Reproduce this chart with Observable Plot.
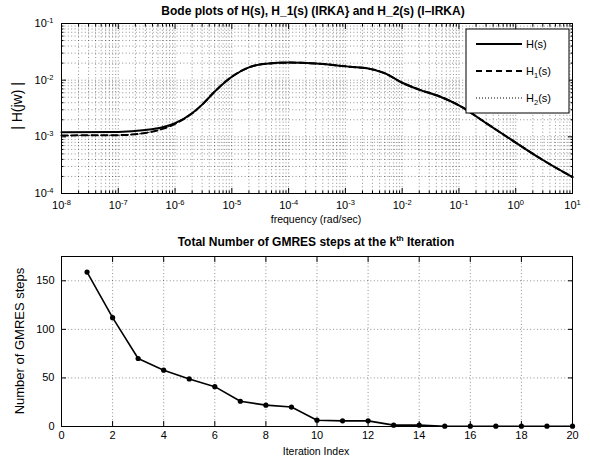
<!DOCTYPE html>
<html><head><meta charset="utf-8">
<script src="https://cdn.jsdelivr.net/npm/d3@7"></script>
<script src="https://cdn.jsdelivr.net/npm/@observablehq/plot@0.6"></script>
<style>
body{margin:0;background:#fff;font-family:"Liberation Sans",Arial,sans-serif;color:#000}
#wrap{position:relative;width:590px;height:459px;overflow:hidden;background:#fff}
.abs{position:absolute;white-space:nowrap;line-height:1}
.title{font-weight:bold;font-size:12px;transform:translateX(-50%)}
.xlab{font-size:10.5px;transform:translateX(-50%)}
.ylab{font-size:13px;transform:translate(-50%,-50%) rotate(-90deg)}
.ylab.big{font-size:14px}
sup{font-size:8px;vertical-align:0;position:relative;top:-5px}
</style></head>
<body><div id="wrap"></div>
<script>
// ---------- data: Bode magnitudes ----------
const freq = [1e-8,1e-7,3e-7,6e-7,1e-6,2e-6,3e-6,5e-6,1e-5,2e-5,4e-5,1e-4,3e-4,6e-4,1.2e-3,2.4e-3,5e-3,1e-2,2e-2,4.7e-2,1e-1,3e-1,1,3,10];
const magH  = [1.20e-3,1.22e-3,1.32e-3,1.48e-3,1.74e-3,2.6e-3,3.7e-3,6.3e-3,1.15e-2,1.68e-2,1.95e-2,2.04e-2,1.97e-2,1.86e-2,1.72e-2,1.62e-2,1.32e-2,9.0e-3,6.8e-3,5.1e-3,3.6e-3,1.75e-3,7.9e-4,3.9e-4,1.95e-4];
const magH1 = [1.06e-3,1.07e-3,1.17e-3,1.38e-3,1.70e-3,2.6e-3,3.7e-3,6.3e-3,1.15e-2,1.68e-2,1.95e-2,2.04e-2,1.97e-2,1.86e-2,1.72e-2,1.62e-2,1.32e-2,9.0e-3,6.8e-3,5.1e-3,3.6e-3,1.75e-3,7.9e-4,3.9e-4,1.95e-4];
const magH2 = [1.06e-3,1.07e-3,1.17e-3,1.38e-3,1.70e-3,2.6e-3,3.7e-3,6.3e-3,1.15e-2,1.68e-2,1.95e-2,2.04e-2,1.97e-2,1.86e-2,1.72e-2,1.62e-2,1.32e-2,9.0e-3,6.8e-3,5.1e-3,3.6e-3,1.75e-3,7.9e-4,3.9e-4,1.95e-4];
const xDecades = [1e-8,1e-7,1e-6,1e-5,1e-4,1e-3,1e-2,1e-1,1e0,1e1];
const yDecades = [1e-4,1e-3,1e-2,1e-1];
const seriesNames = ["H(s)","H_1(s)","H_2(s)"];

// ---------- data: GMRES steps ----------
const iteration = [1,2,3,4,5,6,7,8,9,10,11,12,13,14,15,16,17,18,19,20];
const gmresSteps = [159,112,70,58,49,41,26,22,20,6.5,5.8,5.8,1.4,1.4,0.3,0.3,0.3,0.3,0.3,0.3];
const iterTicks = [0,2,4,6,8,10,12,14,16,18,20];
const stepTicks = [0,50,100,150];

const titleTop = "Bode plots of H(s), H_1(s) (IRKA} and H_2(s) (I\u2013IRKA)";
const xLabelTop = "frequency (rad/sec)";
const yLabelTop = "| H(jw) |";
const xLabelBot = "Iteration Index";
const yLabelBot = "Number of GMRES steps";

// ---------- helpers ----------
const minorOf = decs => decs.slice(0,-1).flatMap(d => [2,3,4,5,6,7,8,9].map(k => k*d));
const gridStyle = {stroke:"#000", strokeOpacity:0.55, strokeWidth:0.8, strokeDasharray:"1,2.4"};
const powLabel = d => "10^" + Math.round(Math.log10(d));

function supify(svg){
  d3.select(svg).selectAll("g[aria-label$='tick label'] text").each(function(){
    const s = this.textContent;
    if (!s.includes("^")) return;
    const [b,e] = s.split("^");
    const t = d3.select(this); t.text("");
    t.append("tspan").text(b);
    t.append("tspan").attr("dy","-0.55em").attr("font-size","7.5px").text(e.replace("\u2212","-"));
  });
}

const wrap = document.getElementById("wrap");
const bode = freq.map((f,i)=>({f, H:magH[i], H1:magH1[i], H2:magH2[i]}));

// ---------- top chart ----------
const topChart = Plot.plot({
  width:590, height:230, marginLeft:61, marginRight:18, marginTop:23, marginBottom:37,
  style:{fontFamily:"Liberation Sans, Arial, sans-serif", fontSize:"11px", background:"transparent", color:"#000"},
  x:{type:"log", domain:[1e-8,1e1]},
  y:{type:"log", domain:[1e-4,1e-1]},
  marks:[
    Plot.gridX(minorOf(xDecades), gridStyle),
    Plot.gridY(minorOf(yDecades), gridStyle),
    Plot.gridX(xDecades, gridStyle),
    Plot.gridY(yDecades, gridStyle),
    Plot.axisX(minorOf(xDecades), {anchor:"bottom", tickSize:-2.5, fill:"none", label:null}),
    Plot.axisX(minorOf(xDecades), {anchor:"top", tickSize:-2.5, fill:"none", label:null}),
    Plot.axisY(minorOf(yDecades), {anchor:"left", tickSize:-2.5, fill:"none", label:null}),
    Plot.axisY(minorOf(yDecades), {anchor:"right", tickSize:-2.5, fill:"none", label:null}),
    Plot.axisX(xDecades, {anchor:"bottom", tickSize:-5, fill:"none", label:null}),
    Plot.axisX(xDecades, {anchor:"top", tickSize:-5, fill:"none", label:null}),
    Plot.axisY(yDecades, {anchor:"left", tickSize:-5, fill:"none", label:null}),
    Plot.axisY(yDecades, {anchor:"right", tickSize:-5, fill:"none", label:null}),
    Plot.axisX(xDecades, {anchor:"bottom", tickSize:0, tickPadding:8, tickFormat:powLabel, label:null, fontSize:11}),
    Plot.axisY(yDecades, {anchor:"left", tickSize:0, tickPadding:8, tickFormat:powLabel, label:null, fontSize:11}),
    Plot.line(bode, {x:"f", y:"H2", stroke:"#000", strokeWidth:1, strokeDasharray:"1,2", curve:"monotone-x"}),
    Plot.line(bode, {x:"f", y:"H1", stroke:"#000", strokeWidth:2, strokeDasharray:"6,4", curve:"monotone-x"}),
    Plot.line(bode, {x:"f", y:"H", stroke:"#000", strokeWidth:2, curve:"monotone-x"}),
    Plot.frame({stroke:"#000", strokeWidth:1})
  ]
});
supify(topChart);
topChart.style.position="absolute"; topChart.style.left="0px"; topChart.style.top="0px";
wrap.appendChild(topChart);

// ---------- bottom chart ----------
const steps = iteration.map((k,i)=>({k, s:gmresSteps[i]}));
const botChart = Plot.plot({
  width:590, height:229, marginLeft:61, marginRight:18, marginTop:26, marginBottom:33,
  style:{fontFamily:"Liberation Sans, Arial, sans-serif", fontSize:"11px", background:"transparent", color:"#000"},
  x:{domain:[0,20]},
  y:{domain:[0,175]},
  marks:[
    Plot.gridX(iterTicks.slice(1,-1), gridStyle),
    Plot.gridY(stepTicks.slice(1), gridStyle),
    Plot.axisX(iterTicks, {anchor:"bottom", tickSize:-5, fill:"none", label:null}),
    Plot.axisX(iterTicks, {anchor:"top", tickSize:-5, fill:"none", label:null}),
    Plot.axisY(stepTicks, {anchor:"left", tickSize:-5, fill:"none", label:null}),
    Plot.axisY(stepTicks, {anchor:"right", tickSize:-5, fill:"none", label:null}),
    Plot.axisX(iterTicks, {anchor:"bottom", tickSize:0, tickPadding:5, label:null, fontSize:11}),
    Plot.axisY(stepTicks, {anchor:"left", tickSize:0, tickPadding:7, label:null, fontSize:11}),
    Plot.line(steps, {x:"k", y:"s", stroke:"#000", strokeWidth:1.6}),
    Plot.dot(steps, {x:"k", y:"s", r:2.6, fill:"#000", stroke:"none"}),
    Plot.frame({stroke:"#000", strokeWidth:1})
  ]
});
botChart.style.position="absolute"; botChart.style.left="0px"; botChart.style.top="230px";
wrap.appendChild(botChart);

// ---------- texts ----------
function addDiv(cls, html, left, topPx){
  const d = document.createElement("div");
  d.className = "abs " + cls; d.innerHTML = html;
  d.style.left = left+"px"; d.style.top = topPx+"px";
  wrap.appendChild(d); return d;
}
addDiv("title", titleTop, 313, 5);
addDiv("xlab", xLabelTop, 316, 214);
addDiv("ylab big", yLabelTop, 17, 106);
addDiv("title", "Total Number of GMRES steps at the k<sup>th</sup> Iteration", 316, 236);
addDiv("xlab", xLabelBot, 316, 446);
addDiv("ylab", yLabelBot, 19, 341);

// ---------- legend ----------
const leg = d3.select(wrap).append("svg")
  .attr("width",105).attr("height",86)
  .style("position","absolute").style("left","465px").style("top","28px");
leg.append("rect").attr("x",1).attr("y",1).attr("width",103).attr("height",84)
  .attr("fill","#fff").attr("stroke","#000").attr("stroke-width",1);
const dashes = [null,"6,4","1,2"];
const widths = [2,2,1];
seriesNames.forEach((name,i)=>{
  const y = 16 + i*27;
  leg.append("line").attr("x1",11).attr("x2",57).attr("y1",y).attr("y2",y)
    .attr("stroke","#000").attr("stroke-width",widths[i]).attr("stroke-dasharray",dashes[i]);
  const t = leg.append("text").attr("x",61).attr("y",y+4).attr("font-size","11px")
    .attr("font-family","Liberation Sans, Arial, sans-serif");
  if (name.includes("_")) {
    const [a,rest] = name.split("_");
    t.append("tspan").text(a);
    t.append("tspan").attr("dy","3").attr("font-size","7.5px").text(rest[0]);
    t.append("tspan").attr("dy","-3").text(rest.slice(1));
  } else t.text(name);
});
</script></body></html>
